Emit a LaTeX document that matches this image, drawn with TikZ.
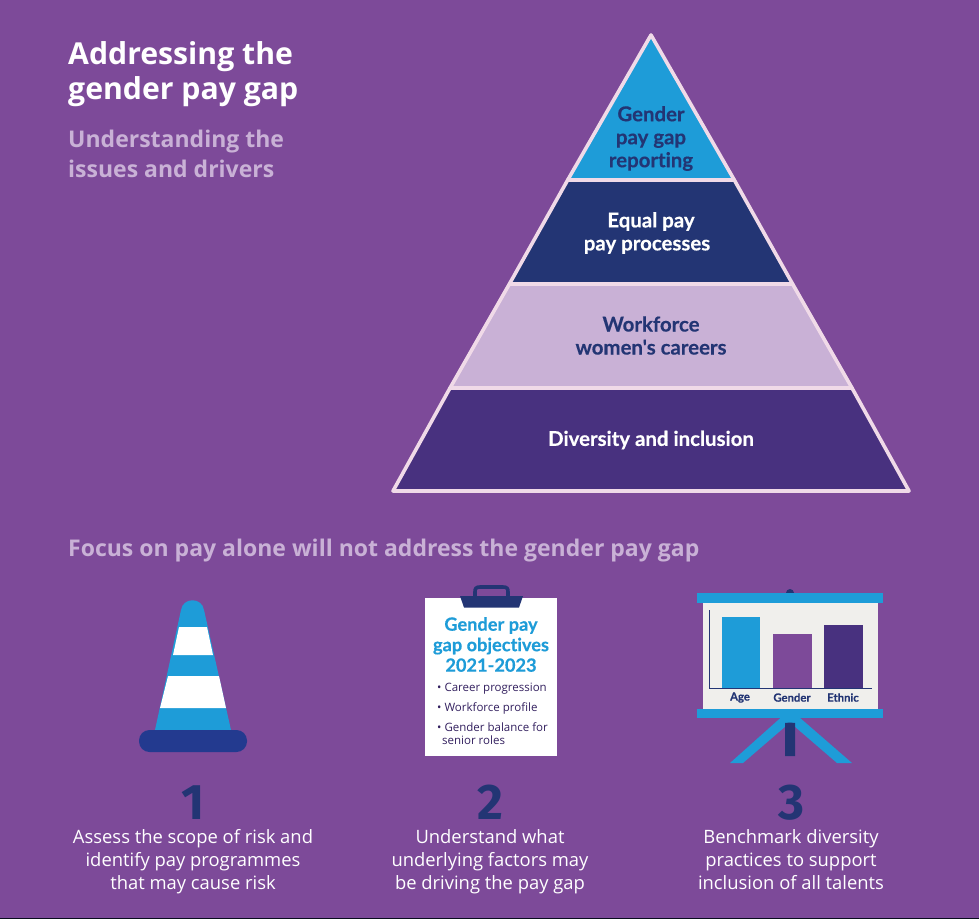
\documentclass[tikz,border=0pt]{standalone}
\usepackage{fontspec}
\setmainfont{Open Sans}
\newfontfamily\labelfont[Ligatures=NoCommon,BoldFeatures={FakeBold=0.35}]{Lato}
\newfontfamily\numfont{Fira Sans}
\usetikzlibrary{positioning}
\definecolor{bgpurple}{HTML}{7D4A99}
\definecolor{deeppurple}{HTML}{48317F}
\definecolor{navy}{HTML}{233574}
\definecolor{skyblue}{HTML}{1E9CD8}
\definecolor{lilac}{HTML}{C9B1D6}
\definecolor{edgepink}{HTML}{F0DAE8}
\definecolor{boardgrey}{HTML}{F0EFEC}
\definecolor{conenavy}{HTML}{233A8F}
\definecolor{listink}{HTML}{33205F}

\begin{document}
\begin{tikzpicture}[
    x=1pt, y=-1pt,
    node distance=23pt,
    band/.style={draw=edgepink, line width=3.6pt, line join=round},
    bandtext/.style={font=\labelfont\fontsize{20.4}{23}\selectfont\bfseries, align=center, inner sep=0pt},
    heading/.style={font=\bfseries\fontsize{23}{30}\selectfont, text=lilac, align=left, inner sep=0pt, anchor=base west},
    stepnum/.style={font=\numfont\fontsize{50}{50}\selectfont\bfseries, text=navy, inner sep=0pt},
    steptext/.style={font=\fontsize{18.4}{23}\selectfont, text=white, align=center, inner sep=0pt, anchor=base},
    charttext/.style={font=\labelfont\fontsize{11.3}{12}\selectfont\bfseries, text=navy, inner sep=0pt},
    listtext/.style={font=\fontsize{11.5}{13}\selectfont, text=listink, align=left, inner sep=0pt, anchor=west}
]
\useasboundingbox (0,0) rectangle (979,919);
\fill[bgpurple] (0,0) rectangle (979,919);
\fill[black!75!navy] (0,917.6) rectangle (979,919);

% Title
\node[font=\bfseries\fontsize{30.2}{35}\selectfont, text=white, align=left, inner sep=0pt, anchor=base west] (title) at (68,99) {Addressing the\\gender pay gap};
\node[heading] (subtitle) at (68,177) {Understanding the\\issues and drivers};

% Pyramid
\draw[band, fill=deeppurple] (450,388) -- (852,388) -- (909,491) -- (393,491) -- cycle;
\draw[band, fill=lilac] (509.4,284) -- (792.6,284) -- (852,388) -- (450,388) -- cycle;
\draw[band, fill=navy] (567.7,180) -- (734.3,180) -- (792.6,284) -- (509.4,284) -- cycle;
\draw[band, fill=skyblue] (651,35) -- (734.3,180) -- (567.7,180) -- cycle;

\node[bandtext, text=navy] (report) at (651,138.5) {Gender\\pay gap\\reporting};
\node[bandtext, text=white] (equal) at (647,233) {\hspace*{8pt}Equal pay\\pay processes};
\node[bandtext, text=navy] (workforce) at (651,335.5) {Workforce\\women's careers};
\node[bandtext, text=white] (diversity) at (651,440) {Diversity and inclusion};

% Focus line
\node[heading] (focus) at (68,556) {Focus on pay alone will not address the gender pay gap};

% Cone
\fill[skyblue] (155,730) -- (181,610) .. controls (183,597) and (202,597) .. (204,610) -- (231,730) -- cycle;
\fill[white] (179,627) -- (207,627) -- (213,655) -- (173,655) -- cycle;
\fill[white] (168,676) -- (219,676) -- (226,708) -- (160,708) -- cycle;
\fill[conenavy, rounded corners=10.5pt] (139,730) rectangle (247,752);

% Clipboard
\fill[white] (425,598) rectangle (557,756);
\draw[navy, line width=3.6pt] (475,597) -- (475,592) .. controls (475,588.5) and (476,587) .. (480,587) -- (503,587) .. controls (507,587) and (508,588.5) .. (508,592) -- (508,597);
\fill[navy] (460,596) -- (523,596) -- (519,607.5) -- (464,607.5) -- cycle;
\node[font=\labelfont\fontsize{18.2}{20.5}\selectfont\bfseries, text=skyblue, align=center, inner sep=0pt] (goals) at (491,644.5) {Gender pay\\gap objectives\\2021-2023};
\node[listtext] (item1) at (437,689) {\textbullet\ Career progression};
\node[listtext] (item2) at (437,708) {\textbullet\ Workforce profile};
\node[listtext] (item3) at (437,733.5) {\textbullet\ Gender balance for\\\hspace*{5pt}senior roles};

% Chart board
\fill[navy] (790,593) circle (4);
\fill[skyblue] (781.5,717) -- (730,763) -- (743,763) -- (790,722.5) -- (837,763) -- (852,763) -- (799,717) -- cycle;
\fill[navy] (785,723) -- (790,722.5) -- (795,723) -- (795,756) -- (785,756) -- cycle;
\fill[boardgrey] (703,602) rectangle (878,710);
\fill[skyblue] (697,593) rectangle (883,603);
\fill[skyblue] (697,709) rectangle (883,718);
\fill[skyblue] (722,617) rectangle (760,688);
\fill[bgpurple] (773,634) rectangle (812,688);
\fill[deeppurple] (824,625) rectangle (863,688);
\draw[navy, line width=1pt] (709,610) -- (709,688) -- (872,688);
\node[charttext] (age) at (740,697.5) {Age};
\node[charttext] (gender) at (792,697.5) {Gender};
\node[charttext] (ethnic) at (843,697.5) {Ethnic};

% Steps
\node[stepnum] (num1) at (193,802.5) {1};
\node[stepnum] (num2) at (490.5,802.5) {2};
\node[stepnum] (num3) at (791,802.5) {3};
\node[steptext] (step1) at (193,889) {Assess the scope of risk and\\identify pay programmes\\that may cause risk};
\node[steptext] (step2) at (490,889) {Understand what\\underlying factors may\\be driving the pay gap};
\node[steptext] (step3) at (791,889) {Benchmark diversity\\practices to support\\inclusion of all talents};

\end{tikzpicture}
\end{document}
